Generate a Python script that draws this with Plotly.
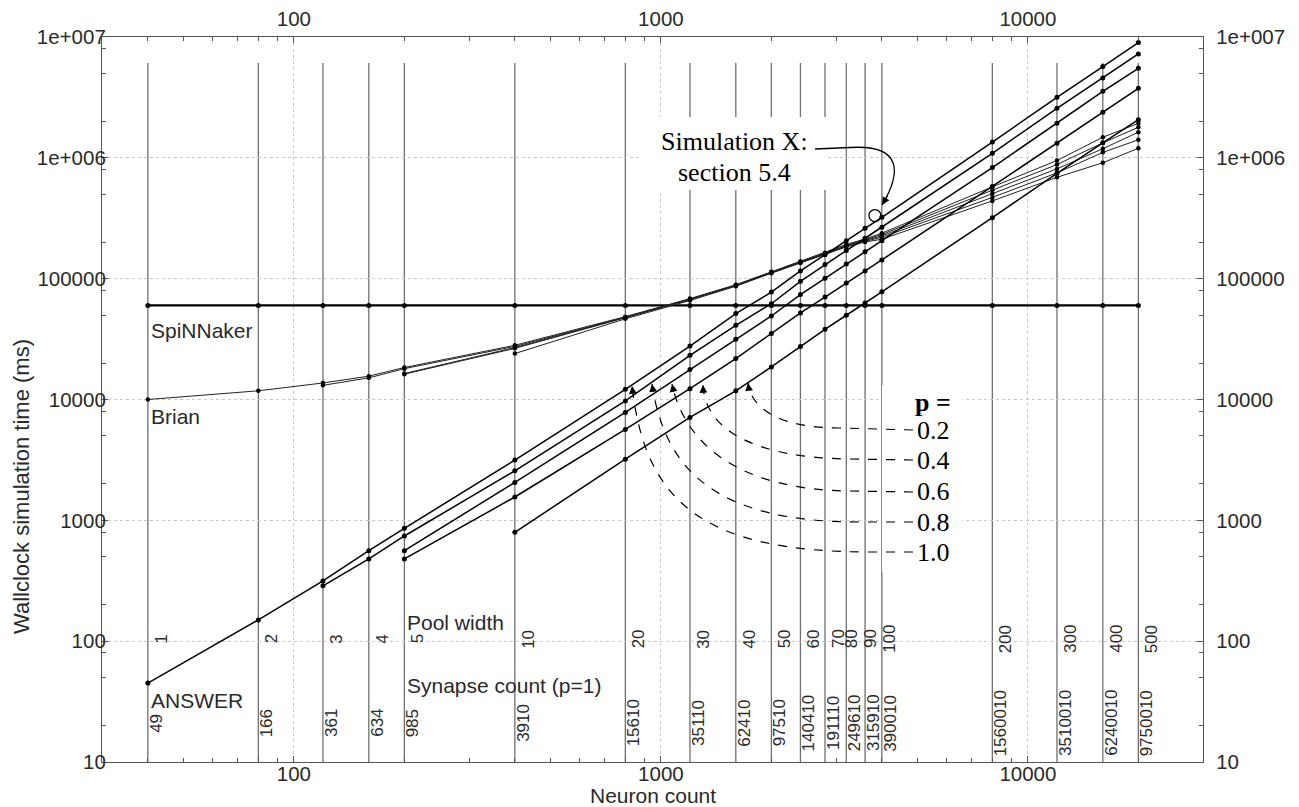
import math
import plotly.graph_objects as go

# ---------------- data ----------------
pool_width = [1, 2, 3, 4, 5, 10, 20, 30, 40, 50, 60, 70, 80, 90, 100, 200, 300, 400, 500]
neuron_count = [40, 80, 120, 160, 200, 400, 800, 1200, 1600, 2000, 2400, 2800, 3200,
                3600, 4000, 8000, 12000, 16000, 20000]
synapse_count = [49, 166, 361, 634, 985, 3910, 15610, 35110, 62410, 97510, 140410, 191110,
                 249610, 315910, 390010, 1560010, 3510010, 6240010, 9750010]

spinnaker_ms = [60000] * 19

answer_p10 = [45, 150, 315, 561, 859, 3150, 12150, 27700, 51400, 77400, 116000, 158000,
              206000, 261000, 322000, 1350000, 3170000, 5690000, 9000000]
answer_p08 = [None, None, 287, 479, 742, 2570, 9740, 23200, 41100, 62000, 95000, 131000,
              171000, 216000, 267000, 1090000, 2570000, 4580000, 7250000]
answer_p06 = [None, None, None, None, 561, 2060, 7810, 17700, 31500, 49100, 73800, 101000,
              132000, 167000, 206000, 830000, 1930000, 3550000, 5500000]
answer_p04 = [None, None, None, None, 479, 1560, 5650, 12300, 21800, 35100, 52000, 70500,
              92000, 116000, 143000, 580000, 1320000, 2380000, 3760000]
answer_p02 = [None, None, None, None, None, 796, 3210, 7100, 11800, 18600, 27500, 38100,
              49800, 63000, 77800, 320000, 745000, 1330000, 2070000]

brian_p10 = [10000, 11800, 13700, 15600, 18400, 28100, 48500, 68400, 89000, 114000, 139000,
             164000, 192000, 213000, 238000, 575000, 950000, 1480000, 1930000]
brian_p08 = [None, None, 13100, 15100, 18000, 27500, 48000, 67800, 88500, 113000, 138000,
             162000, 189000, 210000, 232000, 540000, 880000, 1330000, 1790000]
brian_p06 = [None, None, None, None, 16400, 26900, 47800, 67500, 88000, 112500, 137000,
             160500, 187000, 207000, 226000, 505000, 810000, 1190000, 1630000]
brian_p04 = [None, None, None, None, 16200, 26500, 47500, 67000, 87500, 112000, 136000,
             159500, 185000, 204000, 220000, 470000, 750000, 1110000, 1410000]
brian_p02 = [None, None, None, None, None, 24000, 46500, 66000, 86500, 111000, 135000,
             158000, 183000, 201000, 212000, 440000, 690000, 910000, 1200000]

p_labels = ["0.2", "0.4", "0.6", "0.8", "1.0"]
sim_x_neurons = [3830]
sim_x_ms = [333000]

x_ticks = [100, 1000, 10000]
y_ticks = [10, 100, 1000, 10000, 100000, 1000000, 10000000]
y_tick_text = ["10", "100", "1000", "10000", "100000", "1e+006", "1e+007"]
y_minor = [m * 10 ** k for k in range(1, 7) for m in (2, 5, 8)]

# ---------------- layout geometry (page pixels) ----------------
OFF = 8                      # default page body margin
W, H = 1299 - OFF, 807 - OFF
PL, PR, PT, PB = 102, 1203, 37, 762


def px(x):
    return (x - PL) / (PR - PL)


def py(y):
    return (PB - y) / (PB - PT)


SANS = "Liberation Sans, Arial, sans-serif"
SERIF = "Liberation Serif, Times New Roman, serif"
TXT = "#2a2a2a"

fig = go.Figure()

mk = dict(color="black", size=5)

fig.add_trace(go.Scatter(x=neuron_count, y=spinnaker_ms, mode="lines+markers",
                         line=dict(color="black", width=2.2), marker=mk, showlegend=False))
for s in [brian_p02, brian_p04, brian_p06, brian_p08, brian_p10]:
    fig.add_trace(go.Scatter(x=neuron_count, y=s, mode="lines+markers",
                             line=dict(color="#222", width=1), marker=dict(color="black", size=4.5),
                             showlegend=False))
for s in [answer_p02, answer_p04, answer_p06, answer_p08, answer_p10]:
    fig.add_trace(go.Scatter(x=neuron_count, y=s, mode="lines+markers",
                             line=dict(color="black", width=1.5), marker=mk, showlegend=False))
fig.add_trace(go.Scatter(x=sim_x_neurons, y=sim_x_ms, mode="markers",
                         marker=dict(symbol="circle-open", size=12, color="black",
                                     line=dict(width=1.3)), showlegend=False))
# helper trace for mirrored labelled axes (top / right)
fig.add_trace(go.Scatter(x=neuron_count, y=spinnaker_ms, xaxis="x2", yaxis="y2",
                         mode="markers", marker=dict(opacity=0), showlegend=False,
                         hoverinfo="skip"))

# vertical pool-width lines
for n in neuron_count:
    fig.add_shape(type="line", xref="x", yref="paper", x0=n, x1=n, y0=0, y1=py(63),
                  line=dict(color="#707070", width=1.3), layer="below")

ann = []


def text(x, y, t, size, family=SANS, color=TXT, xref="paper", **kw):
    d = dict(x=x, y=y, xref=xref, yref="paper", text=t, showarrow=False,
             xanchor=kw.pop("xanchor", "center"), yanchor=kw.pop("yanchor", "middle"),
             font=dict(family=family, size=size, color=color))
    d.update(kw)
    ann.append(d)


# pool width / synapse labels
crowd = {80: 5, 90: 5, 100: 7}
for w, n, s in zip(pool_width, neuron_count, synapse_count):
    text(math.log10(n), py(639), str(w), 17, xref="x", textangle=-90, xshift=crowd.get(w, 13))
    text(math.log10(n), py(723), str(s), 17, xref="x", textangle=-90, xshift=8)

for t, yy in [("SpiNNaker", 330), ("Brian", 417), ("ANSWER", 700)]:
    text(math.log10(neuron_count[0]), py(yy), t, 21, xref="x", xanchor="left", xshift=1)
text(px(405), py(622), "Pool width", 21, xanchor="left")
text(px(405), py(685), "Synapse count (p=1)", 21, xanchor="left")

# axis titles
text(0.5, py(795), "Neuron count", 21)
text(px(21), py(487), "Wallclock simulation time (ms)", 22, textangle=-90)

# Simulation X box
fig.add_shape(type="rect", xref="paper", yref="paper", x0=px(642), x1=px(827),
              y0=py(190), y1=py(117), fillcolor="white", line=dict(width=0), layer="above")
text(px(734), py(142), "Simulation X:", 26, family=SERIF, color="black")
text(px(734), py(172), "section 5.4", 26, family=SERIF, color="black")
fig.add_shape(type="path", xref="paper", yref="paper",
              path=f"M {px(815)} {py(149)} L {px(850)} {py(147.5)} C {px(905)} {py(144)} "
                   f"{px(900)} {py(175)} {px(882)} {py(205)}",
              line=dict(color="black", width=1.3), layer="above")
ann.append(dict(x=px(882), y=py(205), xref="paper", yref="paper", showarrow=True,
                ax=18 * 0.35, ay=-30 * 0.35, text="",
                arrowhead=2, arrowsize=1.3, arrowwidth=1.2, arrowcolor="black"))

# p = legend
fig.add_shape(type="rect", xref="paper", yref="paper", x0=px(882), x1=px(962),
              y0=py(572), y1=py(385), fillcolor="white", line=dict(width=0), layer="above")
text(px(933), py(402), "<b>p =</b>", 26, family=SERIF, color="black")
curves = [  # label y, P0, P1, P2, P3 (pixels)
    (430, (840, 428), (785, 428), (752, 412), (748, 383)),
    (460, (850, 459), (755, 458), (705, 430), (703, 385)),
    (492, (850, 491), (740, 490), (685, 445), (672, 384)),
    (522, (860, 522), (715, 522), (665, 470), (652, 384)),
    (552, (870, 552), (700, 552), (645, 500), (632, 386)),
]
for lab, (ly, p0, p1, p2, p3) in zip(p_labels, curves):
    text(px(915), py(ly), lab, 26, family=SERIF, color="black", xanchor="left")
    fig.add_shape(type="path", xref="paper", yref="paper",
                  path=f"M {px(913)} {py(ly)} L {px(p0[0])} {py(p0[1])} C {px(p1[0])} {py(p1[1])} "
                       f"{px(p2[0])} {py(p2[1])} {px(p3[0])} {py(p3[1])}",
                  line=dict(color="black", width=1.2, dash="dash"), layer="above")
    dx, dy = p2[0] - p3[0], p2[1] - p3[1]
    L = math.hypot(dx, dy)
    ann.append(dict(x=px(p3[0]), y=py(p3[1]), xref="paper", yref="paper", showarrow=True,
                    ax=dx / L * 9, ay=dy / L * 9, text="", arrowhead=2, arrowsize=1.3,
                    arrowwidth=1.2, arrowcolor="black"))

axis_common = dict(type="log", showline=True, linecolor="#555", linewidth=1.2,
                   ticks="inside", ticklen=6, tickcolor="#555", automargin=False,
                   tickfont=dict(family=SANS, size=20.5, color=TXT),
                   zeroline=False)
fig.update_layout(
    width=W, height=H, plot_bgcolor="white", paper_bgcolor="white",
    margin=dict(l=PL - OFF, r=W - (PR - OFF), t=PT - OFF, b=H - (PB - OFF), autoexpand=False),
    showlegend=False,
    xaxis=dict(range=[math.log10(30), math.log10(30000)], tickvals=x_ticks,
               ticktext=[str(v) for v in x_ticks], ticklabelstandoff=-7,
               showgrid=True, gridcolor="#c8c8c8", griddash="dot", gridwidth=1,
               minor=dict(ticks="inside", ticklen=4, tickcolor="#555", dtick="D1",
                          showgrid=False),
               **axis_common),
    yaxis=dict(range=[1, 7], tickvals=y_ticks, ticktext=y_tick_text, ticklabelstandoff=-9,
               showgrid=True, gridcolor="#c8c8c8", griddash="dot", gridwidth=1,
               minor=dict(ticks="inside", ticklen=4, tickcolor="#555", tickvals=y_minor,
                          showgrid=False),
               **axis_common),
    xaxis2=dict(range=[math.log10(30), math.log10(30000)], tickvals=x_ticks,
                ticktext=[str(v) for v in x_ticks], overlaying="x", side="top",
                anchor="y", showgrid=False, ticklabelstandoff=2,
                minor=dict(ticks="inside", ticklen=4, tickcolor="#555", dtick="D1"),
                **axis_common),
    yaxis2=dict(range=[1, 7], tickvals=y_ticks, ticktext=y_tick_text, overlaying="y",
                side="right", anchor="x", showgrid=False, ticklabelstandoff=8,
                minor=dict(ticks="inside", ticklen=4, tickcolor="#555", tickvals=y_minor),
                **axis_common),
    annotations=ann,
)

fig.write_html("out.html")
